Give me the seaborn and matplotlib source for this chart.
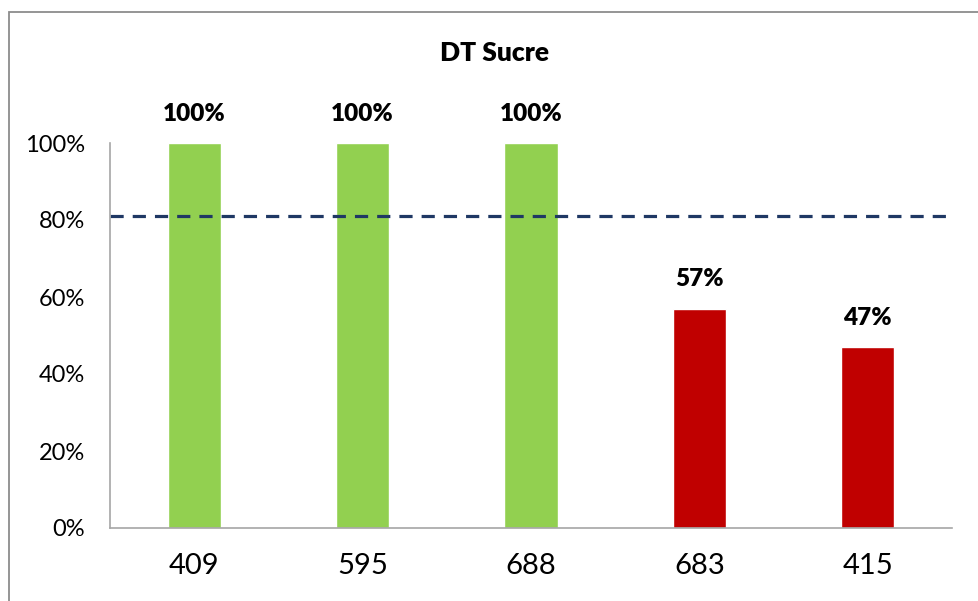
import matplotlib
matplotlib.use("Agg")
import matplotlib.pyplot as plt
import matplotlib.patches as mpatches
from matplotlib.ticker import PercentFormatter
import seaborn as sns

# data
categories = ["409", "595", "688", "683", "415"]
values = [1.00, 1.00, 1.00, 0.57, 0.47]
bar_colors = ["#92D050", "#92D050", "#92D050", "#C00000", "#C00000"]
target = 0.81
title = "DT Sucre"


def setup_style():
    """Configure visualization style"""
    sns.set_style("white")
    plt.rcParams['font.family'] = ['Lato', 'DejaVu Sans']
    plt.rcParams['lines.scale_dashes'] = False
    plt.rcParams['text.color'] = 'black'
    plt.rcParams['xtick.color'] = 'black'
    plt.rcParams['ytick.color'] = 'black'


def plot_dt_sucre():
    fig = plt.figure(figsize=(9.79, 6.01), dpi=100)
    ax = fig.add_axes([110 / 979, 73 / 601, 842 / 979, 385 / 601])

    sns.barplot(x=categories, y=values, hue=categories, palette=bar_colors,
                legend=False, width=0.315, saturation=1, ax=ax)

    ax.axhline(target, color="#1F3864", linewidth=2.3, linestyle=(0, (9.5, 6.5)))

    for i, v in enumerate(values):
        ax.annotate(f"{v:.0%}", (i, v), xytext=(0, 13), textcoords="offset points",
                    ha="center", va="bottom", fontsize=17.5, fontweight="heavy",
                    annotation_clip=False)

    ax.set_ylim(0, 1.0)
    ax.set_xlim(-0.5, len(categories) - 0.5)
    ax.set_yticks([0, 0.2, 0.4, 0.6, 0.8, 1.0])
    ax.yaxis.set_major_formatter(PercentFormatter(1.0, decimals=0))
    ax.tick_params(axis="y", length=0, pad=18, labelsize=17)
    ax.tick_params(axis="x", length=0, pad=18, labelsize=21)
    ax.set_xlabel("")
    ax.set_ylabel("")

    for side in ["top", "right"]:
        ax.spines[side].set_visible(False)
    for side in ["left", "bottom"]:
        ax.spines[side].set_color("#A6A6A6")
        ax.spines[side].set_linewidth(1.2)

    fig.text(495 / 979, 1 - 53 / 601, title, ha="center", va="center",
             fontsize=19, fontweight="heavy")

    # chart area border (right and bottom edges fall outside the image)
    border = mpatches.Rectangle((9 / 979, -0.1), 1.2, 1 - 12 / 601 + 0.1,
                                transform=fig.transFigure, fill=False,
                                edgecolor="#8C8C8C", linewidth=1.3)
    fig.patches.append(border)

    fig.savefig("out.png", dpi=100)
    plt.close(fig)


if __name__ == "__main__":
    setup_style()
    plot_dt_sucre()
